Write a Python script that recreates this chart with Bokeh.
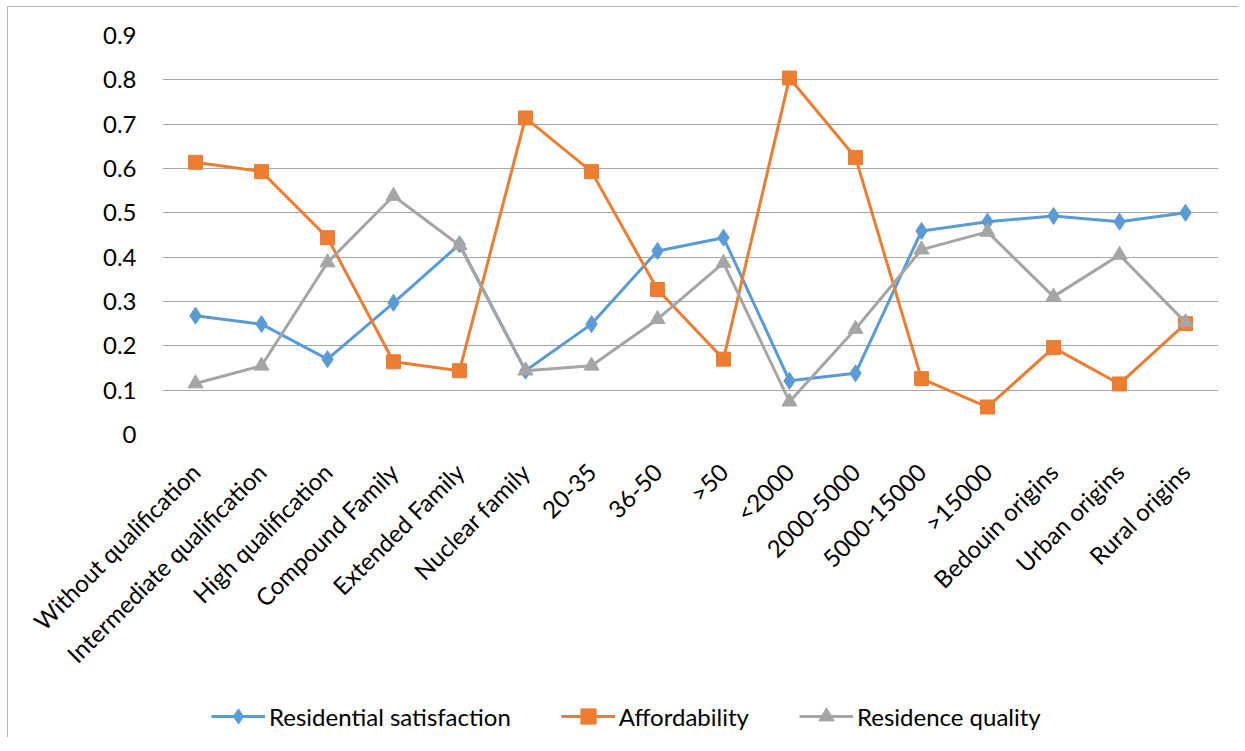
from bokeh.plotting import figure
from bokeh.layouts import column
from bokeh.models import (FactorRange, FixedTicker, NumeralTickFormatter, Legend, LegendItem, Range1d)
from bokeh.embed import file_html
from bokeh.resources import INLINE
import math

categories = ["Without qualification", "Intermediate qualification", "High qualification",
              "Compound Family", "Extended Family", "Nuclear family", "20-35", "36-50", ">50",
              "<2000", "2000-5000", "5000-15000", ">15000", "Bedouin origins", "Urban origins",
              "Rural origins"]
residential_satisfaction = [0.268, 0.249, 0.170, 0.297, 0.429, 0.144, 0.249, 0.414, 0.444,
                            0.121, 0.138, 0.459, 0.480, 0.493, 0.480, 0.500]
affordability = [0.614, 0.593, 0.444, 0.164, 0.144, 0.714, 0.593, 0.327, 0.170,
                 0.804, 0.625, 0.126, 0.062, 0.196, 0.114, 0.250]
residence_quality = [0.115, 0.155, 0.388, 0.538, 0.427, 0.144, 0.155, 0.260, 0.387,
                     0.074, 0.238, 0.417, 0.457, 0.311, 0.405, 0.253]
y_ticks = [0, 0.1, 0.2, 0.3, 0.4, 0.5, 0.6, 0.7, 0.8, 0.9]

FONT = "Lato"
FS = "24px"

p = figure(width=1230, height=680, x_range=FactorRange(*categories, range_padding=0),
           y_range=(0, 0.9), output_backend="svg", toolbar_location=None,
           min_border_left=154, min_border_right=20, min_border_top=28, min_border_bottom=253)
p.outline_line_color = None

p.xgrid.grid_line_color = None
p.ygrid.grid_line_color = "#a6a6a6"
p.ygrid.grid_line_width = 1.2
p.yaxis.ticker = FixedTicker(ticks=y_ticks)
p.yaxis.formatter = NumeralTickFormatter(format="0.[0]")
for ax in (p.xaxis, p.yaxis):
    ax.axis_line_color = None
    ax.major_tick_line_color = None
    ax.minor_tick_line_color = None
    ax.major_tick_out = 0
    ax.major_tick_in = 0
    ax.minor_tick_out = 0
    ax.major_label_text_font = FONT
    ax.major_label_text_font_size = FS
    ax.major_label_text_color = "#000000"
p.yaxis.major_label_standoff = 26
p.xaxis.major_label_orientation = math.pi / 4
p.xaxis.major_label_standoff = 33

series = [
    ("Residential satisfaction", residential_satisfaction, "#5B9BD5", "diamond", 17),
    ("Affordability", affordability, "#ED7D31", "square", 14),
    ("Residence quality", residence_quality, "#A5A5A5", "triangle", 15),
]
for name, vals, color, marker, size in series:
    p.line(categories, vals, line_color=color, line_width=3)
    p.scatter(categories, vals, marker=marker, size=size, fill_color=color, line_color=color)

# legend strip below the chart (its series lie outside its own y range, only the legend shows)
pl = figure(width=1230, height=50, output_backend="svg", toolbar_location=None,
            x_range=FactorRange(*categories, range_padding=0), y_range=Range1d(2, 3),
            min_border_left=0, min_border_right=0, min_border_top=0, min_border_bottom=0,
            x_axis_location=None, y_axis_location=None)
pl.outline_line_color = None
pl.grid.visible = False
items = []
for name, vals, color, marker, size in series:
    lr = pl.line(categories, vals, line_color=color, line_width=3)
    sr = pl.scatter(categories, vals, marker=marker, fill_color=color, line_color=color)
    items.append(LegendItem(label=name, renderers=[lr, sr]))
legend = Legend(items=items, orientation="horizontal", location=(49, 2),
                label_text_font=FONT, label_text_font_size=FS, label_text_color="#000000",
                glyph_width=54, glyph_height=38, spacing=50, border_line_color=None,
                background_fill_alpha=0, margin=0, padding=2, label_standoff=4)
pl.add_layout(legend, "center")

layout = column(p, pl, spacing=0,
                styles={"margin-left": "7px", "margin-top": "6px",
                        "border-left": "1px solid #b4b4b4", "border-top": "1px solid #b4b4b4"})

open("out.html", "w").write(file_html(layout, INLINE))
